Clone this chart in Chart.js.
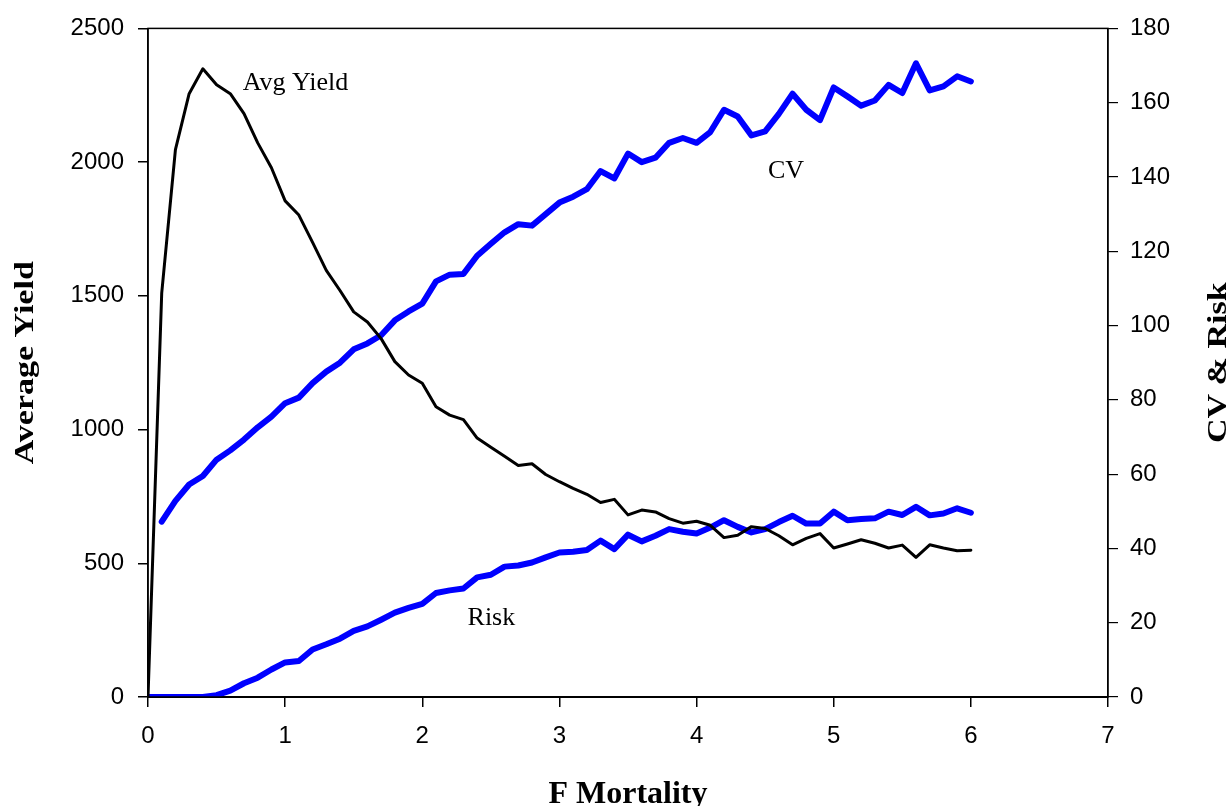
<!DOCTYPE html>
<html>
<head>
<meta charset="utf-8">
<title>F Mortality: Average Yield, CV &amp; Risk</title>
<script src="https://cdn.jsdelivr.net/npm/chart.js@4/dist/chart.umd.min.js"></script>
<style>
  html, body { margin: 0; padding: 0; background: #ffffff; }
  #wrap { width: 1231px; height: 806px; position: relative; }
</style>
</head>
<body>
<div id="wrap"><canvas id="chart"></canvas></div>
<script>
// Fishing mortality rates (x axis)
const fMortality = [
  0.0, 0.1, 0.2, 0.3, 0.4, 0.5, 0.6, 0.7, 0.8, 0.9,
  1.0, 1.1, 1.2, 1.3, 1.4, 1.5, 1.6, 1.7, 1.8, 1.9,
  2.0, 2.1, 2.2, 2.3, 2.4, 2.5, 2.6, 2.7, 2.8, 2.9,
  3.0, 3.1, 3.2, 3.3, 3.4, 3.5, 3.6, 3.7, 3.8, 3.9,
  4.0, 4.1, 4.2, 4.3, 4.4, 4.5, 4.6, 4.7, 4.8, 4.9,
  5.0, 5.1, 5.2, 5.3, 5.4, 5.5, 5.6, 5.7, 5.8, 5.9,
  6.0
];

// Average yield (left axis)
const avgYield = [
  0, 1510, 2047, 2256, 2349, 2289, 2256, 2181, 2072, 1979,
  1855, 1802, 1700, 1595, 1520, 1440, 1402, 1340, 1254, 1204,
  1173, 1085, 1054, 1037, 968, 934, 900, 866, 872, 832,
  805, 780, 758, 727, 739, 681, 699, 692, 667, 650,
  657, 642, 596, 605, 637, 630, 603, 569, 593, 611,
  557, 572, 588, 575, 557, 568, 522, 569, 557, 547,
  549
];

// Coefficient of variation of yield (right axis)
const cv = [
  null, 47.2, 52.8, 57.2, 59.5, 63.9, 66.4, 69.3, 72.6, 75.5,
  79.1, 80.6, 84.5, 87.6, 90.0, 93.6, 95.2, 97.4, 101.4, 103.8,
  105.9, 111.9, 113.7, 113.9, 118.8, 122.0, 125.1, 127.3, 126.9, 130.0,
  133.1, 134.7, 136.7, 141.6, 139.6, 146.3, 144.0, 145.2, 149.2, 150.5,
  149.2, 152.1, 158.1, 156.3, 151.2, 152.3, 157.0, 162.4, 158.1, 155.3,
  164.1, 161.7, 159.2, 160.6, 164.8, 162.6, 170.6, 163.3, 164.4, 167.1,
  165.7
];

// Risk (right axis)
const risk = [
  0, 0, 0, 0, 0, 0.5, 1.7, 3.7, 5.2, 7.4,
  9.3, 9.7, 12.8, 14.2, 15.7, 17.8, 19.0, 20.8, 22.7, 24.0,
  25.1, 28.0, 28.7, 29.2, 32.2, 32.9, 35.1, 35.4, 36.2, 37.6,
  38.9, 39.1, 39.6, 42.1, 39.8, 43.7, 41.9, 43.4, 45.2, 44.5,
  44.0, 45.6, 47.6, 45.8, 44.3, 45.2, 47.1, 48.8, 46.7, 46.7,
  49.9, 47.6, 47.9, 48.1, 49.9, 49.0, 51.2, 48.9, 49.4, 50.8,
  49.6
];

// Axis ranges and tick steps
const xTicks = { min: 0, max: 7, step: 1 };
const yieldTicks = { min: 0, max: 2500, step: 500 };
const cvRiskTicks = { min: 0, max: 180, step: 20 };

// Axis titles
const xTitle = 'F Mortality';
const yLeftTitle = 'Average Yield';
const yRightTitle = 'CV & Risk';

// In-plot series labels, anchored in data units
const seriesLabels = [
  { text: 'Avg Yield', x: 0.69, y: 2270, axis: 'y' },
  { text: 'CV', x: 4.52, y: 139.8, axis: 'y1' },
  { text: 'Risk', x: 2.33, y: 19.4, axis: 'y1' }
];

const toPoints = (vals) => fMortality.map((f, i) => ({ x: f, y: vals[i] }));

const BLUE = '#0000ff';
const SERIF = '"Liberation Serif", "Times New Roman", serif';
const SANS = '"Liberation Sans", Arial, sans-serif';

// Box around the plot area
const framePlugin = {
  id: 'frame',
  afterDatasetsDraw(chart) {
    const { ctx, chartArea: a } = chart;
    ctx.save();
    ctx.strokeStyle = '#000';
    ctx.lineWidth = 1.5;
    ctx.strokeRect(a.left, a.top, a.right - a.left, a.bottom - a.top);
    ctx.restore();
  }
};

// Series labels and axis titles
const textPlugin = {
  id: 'texts',
  afterDraw(chart) {
    const { ctx, chartArea: a, scales } = chart;
    ctx.save();
    ctx.fillStyle = '#000';

    ctx.font = '26px ' + SERIF;
    ctx.textAlign = 'left';
    ctx.textBaseline = 'alphabetic';
    seriesLabels.forEach(l => {
      ctx.fillText(l.text, scales.x.getPixelForValue(l.x), scales[l.axis].getPixelForValue(l.y));
    });

    const midY = (a.top + a.bottom) / 2;
    const midX = (a.left + a.right) / 2;

    // bottom title
    ctx.font = 'bold 32px ' + SERIF;
    ctx.textAlign = 'center';
    ctx.textBaseline = 'alphabetic';
    ctx.fillText(xTitle, midX, 803);

    // vertical titles, reading bottom to top
    const drawVertical = (text, cx) => {
      ctx.save();
      ctx.translate(cx, midY);
      ctx.rotate(-Math.PI / 2);
      ctx.scale(1, 0.8);
      ctx.font = 'bold 34px ' + SERIF;
      ctx.textAlign = 'center';
      ctx.textBaseline = 'middle';
      ctx.fillText(text, 0, 0);
      ctx.restore();
    };
    drawVertical(yLeftTitle, 26);
    drawVertical(yRightTitle, 1219);
    ctx.restore();
  }
};

const tickFont = { family: SANS, size: 24 };
const plainNumber = (v) => String(v);

new Chart(document.getElementById('chart'), {
  type: 'line',
  data: {
    datasets: [
      {
        label: 'Avg Yield',
        data: toPoints(avgYield),
        yAxisID: 'y',
        borderColor: '#000',
        borderWidth: 3,
        pointRadius: 0,
        tension: 0,
        borderJoinStyle: 'round',
        borderCapStyle: 'round'
      },
      {
        label: 'CV',
        data: toPoints(cv),
        yAxisID: 'y1',
        borderColor: BLUE,
        borderWidth: 6,
        pointRadius: 0,
        tension: 0,
        spanGaps: false,
        borderJoinStyle: 'round',
        borderCapStyle: 'round'
      },
      {
        label: 'Risk',
        data: toPoints(risk),
        yAxisID: 'y1',
        borderColor: BLUE,
        borderWidth: 6,
        pointRadius: 0,
        tension: 0,
        borderJoinStyle: 'round',
        borderCapStyle: 'round'
      }
    ]
  },
  options: {
    responsive: true,
    maintainAspectRatio: false,
    animation: false,
    layout: { padding: { top: 25, left: 0, right: 0, bottom: 0 } },
    plugins: {
      legend: { display: false },
      tooltip: { enabled: false },
      title: { display: false }
    },
    scales: {
      x: {
        type: 'linear',
        position: 'bottom',
        min: xTicks.min,
        max: xTicks.max,
        ticks: { stepSize: xTicks.step, color: '#000', font: tickFont, padding: 15, maxRotation: 0, callback: plainNumber },
        grid: { drawOnChartArea: false, drawTicks: true, tickLength: 10, color: '#000', lineWidth: 1.5 },
        border: { display: true, color: '#000', width: 2 },
        afterFit(scale) { scale.height = 109; }
      },
      y: {
        type: 'linear',
        position: 'left',
        min: yieldTicks.min,
        max: yieldTicks.max,
        ticks: { stepSize: yieldTicks.step, color: '#000', font: tickFont, padding: 14, callback: plainNumber },
        grid: { drawOnChartArea: false, drawTicks: true, tickLength: 10, color: '#000', lineWidth: 1.5 },
        border: { display: true, color: '#000', width: 1.5 },
        afterFit(scale) { scale.width = 148; }
      },
      y1: {
        type: 'linear',
        position: 'right',
        min: cvRiskTicks.min,
        max: cvRiskTicks.max,
        ticks: { stepSize: cvRiskTicks.step, color: '#000', font: tickFont, padding: 12, callback: plainNumber },
        grid: { drawOnChartArea: false, drawTicks: true, tickLength: 10, color: '#000', lineWidth: 1.2 },
        border: { display: true, color: '#000', width: 1.2 },
        afterFit(scale) { scale.width = 123; }
      }
    }
  },
  plugins: [framePlugin, textPlugin]
});
</script>
</body>
</html>
